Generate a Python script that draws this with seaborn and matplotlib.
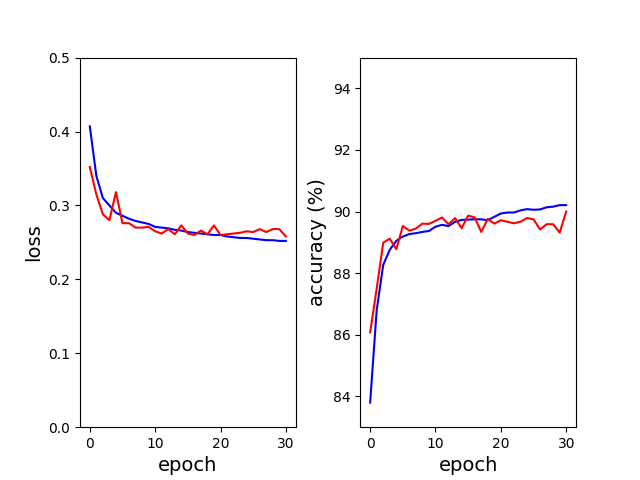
import numpy as np
import pandas as pd
import matplotlib
matplotlib.use("Agg")
import matplotlib.pyplot as plt
import seaborn as sns

epochs = list(range(31))

train_loss = [0.407, 0.340, 0.310, 0.300, 0.290, 0.286, 0.282, 0.279, 0.277, 0.275,
              0.271, 0.270, 0.269, 0.267, 0.266, 0.264, 0.263, 0.262, 0.261, 0.260,
              0.260, 0.258, 0.257, 0.256, 0.256, 0.255, 0.254, 0.253, 0.253, 0.252,
              0.252]
test_loss = [0.352, 0.315, 0.288, 0.280, 0.318, 0.276, 0.276, 0.270, 0.270, 0.271,
             0.265, 0.262, 0.268, 0.261, 0.273, 0.262, 0.260, 0.266, 0.261, 0.273,
             0.260, 0.261, 0.262, 0.263, 0.265, 0.264, 0.268, 0.264, 0.268, 0.268,
             0.258]

train_acc = [83.8, 86.8, 88.27, 88.76, 89.05, 89.19, 89.27, 89.30, 89.34, 89.37,
             89.51, 89.57, 89.53, 89.67, 89.73, 89.74, 89.75, 89.75, 89.72, 89.83,
             89.94, 89.97, 89.97, 90.04, 90.08, 90.06, 90.07, 90.14, 90.16, 90.21,
             90.21]
test_acc = [86.08, 87.5, 88.99, 89.12, 88.78, 89.53, 89.38, 89.45, 89.61, 89.60,
            89.70, 89.81, 89.59, 89.79, 89.46, 89.87, 89.81, 89.34, 89.76, 89.61,
            89.72, 89.67, 89.62, 89.67, 89.79, 89.75, 89.42, 89.59, 89.59, 89.32,
            90.00]

df = pd.DataFrame({
    "epoch": epochs,
    "train_loss": train_loss,
    "test_loss": test_loss,
    "train_acc": train_acc,
    "test_acc": test_acc,
})

fig, (ax1, ax2) = plt.subplots(1, 2, figsize=(6.4, 4.8), dpi=100)
fig.subplots_adjust(wspace=0.3)

# loss panel
sns.lineplot(data=df, x="epoch", y="train_loss", color="blue", ax=ax1)
sns.lineplot(data=df, x="epoch", y="test_loss", color="red", ax=ax1)
ax1.set_ylim(0, 0.5)
ax1.set_xlabel("epoch", fontsize=14)
ax1.set_ylabel("loss", fontsize=14)

# accuracy panel
sns.lineplot(data=df, x="epoch", y="train_acc", color="blue", ax=ax2)
sns.lineplot(data=df, x="epoch", y="test_acc", color="red", ax=ax2)
ax2.set_ylim(83, 95)
ax2.set_xlabel("epoch", fontsize=14)
ax2.set_ylabel("accuracy (%)", fontsize=14)

for ax in (ax1, ax2):
    ax.set_xticks([0, 10, 20, 30])

plt.savefig("out.png", dpi=100)
plt.close(fig)
